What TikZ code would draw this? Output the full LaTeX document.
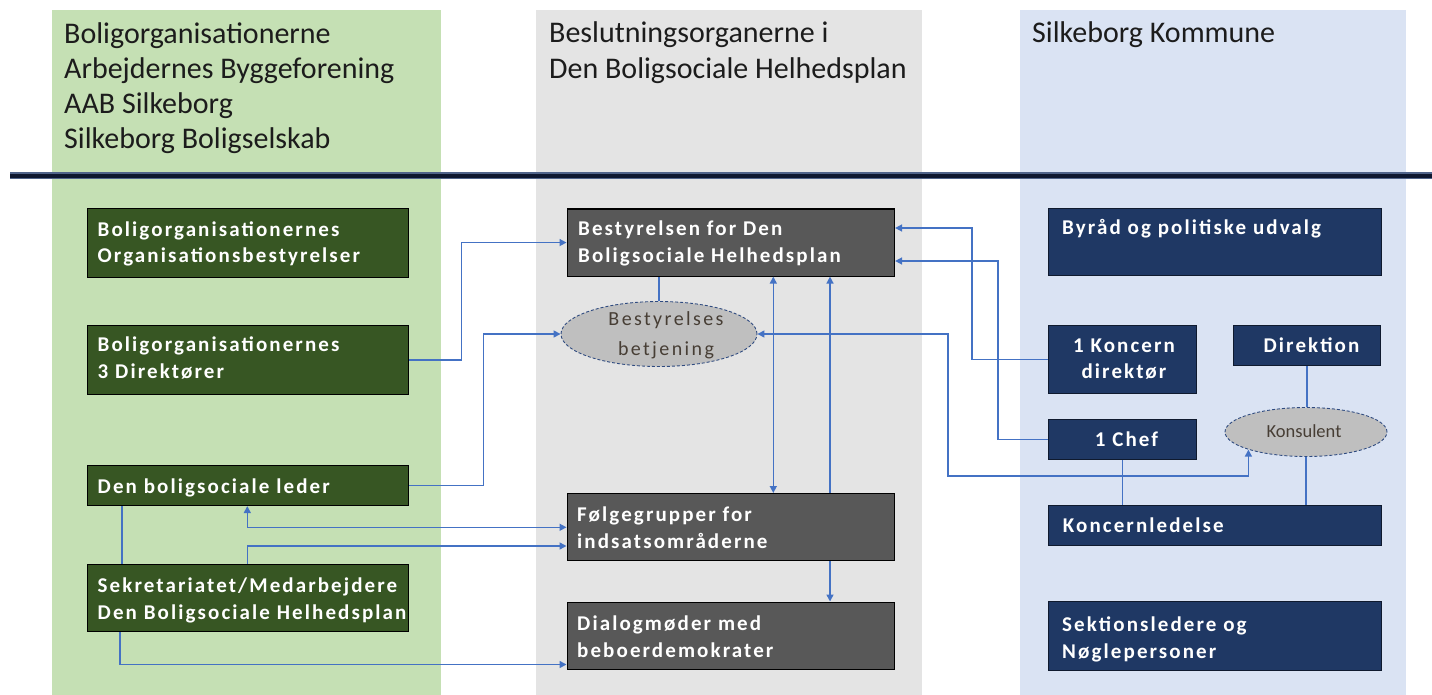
\documentclass[tikz,border=0pt]{standalone}
\usepackage{fontspec}
\setmainfont{Carlito}
\newfontfamily\bxfont{Carlito}[LetterSpace=10]
\newfontfamily\elfont{Carlito}[LetterSpace=12]
\usetikzlibrary{arrows.meta,shapes.geometric}
\definecolor{colg}{HTML}{C5E0B4}
\definecolor{colgray}{HTML}{E4E4E4}
\definecolor{colb}{HTML}{DAE3F3}
\definecolor{boxg}{HTML}{375623}
\definecolor{boxd}{HTML}{585858}
\definecolor{boxn}{HTML}{1F3864}
\definecolor{navyedge}{HTML}{0F1A2E}
\definecolor{conc}{HTML}{4472C4}
\definecolor{ellf}{HTML}{BFBFBF}
\definecolor{elle}{HTML}{2F4B80}
\definecolor{ellt}{HTML}{473E35}
\definecolor{headt}{HTML}{1C1C1C}
\definecolor{rulec}{HTML}{0E1830}
\definecolor{ruleh}{HTML}{50648A}
\begin{document}
\begin{tikzpicture}[x=1pt,y=-1pt,
  boxbase/.style={line width=1.1pt, inner sep=0pt, anchor=north west},
  gbox/.style={boxbase, draw=black, fill=boxg},
  dbox/.style={boxbase, draw=black, fill=boxd},
  nbox/.style={boxbase, draw=navyedge, fill=boxn},
  btx/.style={text=white, font=\bxfont\bfseries\fontsize{21}{26.5}\selectfont, align=left, inner sep=0pt, anchor=base west},
  bctx/.style={btx, align=center, anchor=base},
  htx/.style={text=headt, font=\fontsize{30}{35.3}\selectfont, align=left, inner sep=0pt, anchor=base west},
  ell/.style={ellipse, draw=elle, densely dashed, line width=0.9pt, fill=ellf, inner sep=0pt},
  etx/.style={text=ellt, inner sep=0pt, align=center, anchor=base},
  conn/.style={draw=conc, line width=1.5pt},
  arr/.style={conn, -{Triangle[length=7pt,width=7pt]}},
  arrb/.style={conn, {Triangle[length=7pt,width=7pt]}-{Triangle[length=7pt,width=7pt]}}
]
\useasboundingbox (0,0) rectangle (1432,695);
% columns
\fill[colg] (52,10) rectangle (441,695);
\fill[colgray] (536,10) rectangle (922,695);
\fill[colb] (1020,10) rectangle (1406,695);
% headers (anchor = baseline of last line)
\node[htx] (h1) at (64,149) {Boligorganisationerne\\Arbejdernes Byggeforening\\AAB Silkeborg\\Silkeborg Boligselskab};
\node[htx] (h2) at (549,78.3) {Beslutningsorganerne i\\Den Boligsociale Helhedsplan};
\node[htx] (h3) at (1032,43) {Silkeborg Kommune};
% rule
\coordinate (rl) at (10,176);
\coordinate (rr) at (1432,176);
\draw[ruleh, line width=7pt] (rl) -- (rr);
\draw[rulec, line width=4pt] (rl) -- (rr);
% left column boxes
\node[gbox, minimum width=321.5pt, minimum height=69pt] (org) at (86.5,208) {};
\node[btx] (orgt) at (97.5,262.5) {Boligorganisationernes\\Organisationsbestyrelser};
\node[gbox, minimum width=321.5pt, minimum height=69pt] (dir) at (86.5,325) {};
\node[btx] (dirt) at (97.5,378.2) {Boligorganisationernes\\3 Direktører};
\node[gbox, minimum width=321.5pt, minimum height=40pt] (led) at (86.5,465) {};
\node[btx] (ledt) at (97.5,493.3) {Den boligsociale leder};
\node[gbox, minimum width=321.5pt, minimum height=67pt] (sek) at (86.5,564) {};
\node[btx] (sekt) at (97.5,619.2) {Sekretariatet/Medarbejdere\\Den Boligsociale Helhedsplan};
% middle column
\node[dbox, minimum width=327.5pt, minimum height=67pt] (best) at (566.5,208.5) {};
\node[btx] (bestt) at (578,262.2) {Bestyrelsen for Den\\Boligsociale Helhedsplan};
\node[ell, minimum width=196pt, minimum height=65pt] (bb) at (659,334) {};
\node[etx, font=\elfont\fontsize{20}{29.3}\selectfont] (bbt) at (666,355) {Bestyrelses\\betjening};
\node[dbox, minimum width=327.5pt, minimum height=67pt] (foel) at (566.5,493) {};
\node[btx] (foelt) at (577,548.2) {Følgegrupper for\\indsatsområderne};
\node[dbox, minimum width=327.5pt, minimum height=67.5pt] (dia) at (566.5,601.5) {};
\node[btx] (diat) at (577,657.2) {Dialogmøder med\\beboerdemokrater};
% right column
\node[nbox, minimum width=332.5pt, minimum height=67pt] (byr) at (1048,208) {};
\node[btx] (byrt) at (1062,235) {Byråd og politiske udvalg};
\node[nbox, minimum width=148pt, minimum height=68pt] (kd) at (1048,325) {};
\node[bctx] (kdt) at (1124,378.5) {1 Koncern\\direktør};
\node[nbox, minimum width=147.3pt, minimum height=40pt] (dirk) at (1232.7,325) {};
\node[bctx] (dirkt) at (1311.5,352.7) {Direktion};
\node[nbox, minimum width=148pt, minimum height=40pt] (chef) at (1048,419) {};
\node[bctx] (cheft) at (1126.5,446.7) {1 Chef};
\node[ell, minimum width=162pt, minimum height=49pt] (kons) at (1306,432) {};
\node[etx, font=\fontsize{18.5}{22}\selectfont] (konst) at (1304,437) {Konsulent};
\node[nbox, minimum width=332.5pt, minimum height=40.5pt] (kl) at (1048,504.5) {};
\node[btx] (klt) at (1062.7,532.3) {Koncernledelse};
\node[nbox, minimum width=332.5pt, minimum height=69pt] (sekl) at (1048,601) {};
\node[btx] (seklt) at (1062,658.2) {Sektionsledere og\\Nøglepersoner};
% helper coordinates
\coordinate (v1) at (461.7,0);
\coordinate (v2) at (483.3,0);
\coordinate (va) at (773.3,0);
\coordinate (vb) at (830,0);
\coordinate (vk) at (972,0);
\coordinate (vc) at (998,0);
\coordinate (vs) at (948,0);
\coordinate (vl1) at (122,0);
\coordinate (vl2) at (247.3,0);
\coordinate (vl3) at (120,0);
\coordinate (h527) at (0,527.3);
\coordinate (h546) at (0,546);
\coordinate (h665) at (0,664.5);
\coordinate (h228) at (0,228);
\coordinate (h261) at (0,261);
\coordinate (h476) at (0,476);
% connectors
\draw[arr] (dir.east) -- (dir.east -| v1) |- (best.west);
\draw[arr] (led.east) -- (led.east -| v2) |- (bb.west);
\draw[conn] (bb.north) -- (bb.north |- best.south);
\draw[arrb] (foel.north -| va) -- (best.south -| va);
\draw[arr] (foel.north -| vb) -- (best.south -| vb);
\draw[arr] (foel.south -| vb) -- (dia.north -| vb);
\draw[arr] (kd.west) -- (kd.west -| vk) |- (best.east |- h228);
\draw[arr] (chef.west) -- (chef.west -| vc) |- (best.east |- h261);
\draw[arrb] (bb.east) -- (bb.east -| vs) |- (kons.south west |- h476) -- (kons.south west);
\draw[conn] (dirk.south) -- (dirk.south |- kons.north);
\draw[conn] (kons.south) -- (kons.south |- kl.north);
\draw[conn] (chef.south) -- (chef.south |- kl.north);
\draw[arrb] (led.south -| vl2) |- (foel.west |- h527);
\draw[arr] (sek.north -| vl2) |- (foel.west |- h546);
\draw[conn] (led.south -| vl1) -- (sek.north -| vl1);
\draw[arr] (sek.south -| vl3) |- (dia.west |- h665);
\end{tikzpicture}
\end{document}
